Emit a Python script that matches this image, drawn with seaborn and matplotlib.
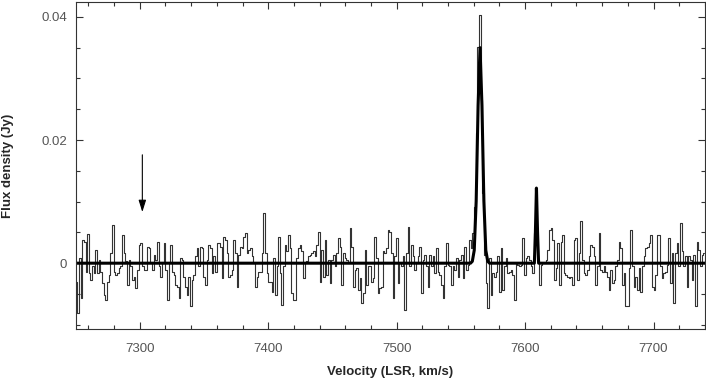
import numpy as np
import pandas as pd
import matplotlib
matplotlib.use("Agg")
import matplotlib.pyplot as plt
from matplotlib.ticker import MultipleLocator
import seaborn as sns

# ── data (flux in mJy; channels start at V0, step DV) ──
V0 = 7250.0
DV = 1.293

flux_a = [-3.0, -8.1, 0.8, -5.7, 3.8, 3.5, -1.4, 4.7, -1.6, -2.7,
          -0.5, -1.6, 2.2, -1.6, 0.5, -1.4, -3.2, -5.1, -6.0, -3.0,
          -1.9, 1.6, 6.2, -1.4, -1.9, -1.6, -0.8, -0.5, 4.6, 1.6,
          0.3, -3.5, 0.5, -0.5, -2.7, -2.2, -4.0, -1.1, 3.0, 3.2,
          -0.5, -1.1, -1.1, 2.7, 2.4, 0.0, -1.1, 1.4, 0.5, 3.5,
          -0.5, -2.2, 0.0, 3.2, -1.1, -6.0, 0.0, 3.0, -1.4, -1.9,
          -3.5, -3.8, -5.7, 0.8, 0.5, -2.2, -3.8, -5.1, -2.2, -7.0,
          -2.7, -1.9, 1.1, 2.4, -0.5, 2.7, 2.4, -2.2, -3.5, 0.5,
          3.0, 2.4, -1.6, 1.1, -1.4, 3.2, 3.2, 2.7, -2.4, 4.3,
          3.8, 1.6, -2.2, -1.9, -1.1, 3.8, 1.6, -3.8, 1.4, 2.7,
          2.4, 4.3, 4.9, 1.6, 2.2, 2.4, 1.1, 0.0, -3.8, -2.2,
          -1.4]

flux_b = [-1.4, 1.6, 8.1, 1.6, -1.6, -3.0, -3.0, -4.6, 0.8, -5.1,
          -0.5, 4.3, -1.6, -6.8, -0.5, 3.0, 1.9, 4.6, 2.4, -4.9,
          -5.9, -5.9, 0.8, 2.4, 3.0, 1.9, -2.4, 0.0, 0.3, 1.1,
          1.4, 1.6, 1.9, 1.1, 3.0, 5.1, -3.0, 2.2, -2.2, 3.8,
          -1.9, 0.5, -3.2, 0.5, 1.4, -0.5, 1.6, 4.1, 2.7, -3.5,
          1.6, 0.8, 0.5, 0.0, 5.7, 2.7, -3.8, -1.1, -0.8, -4.3,
          -2.4, -6.5, -4.9, 2.2, -3.5, -0.5, -0.5, -3.0, -2.4, 4.3,
          0.8, -4.9, -4.1, -3.8, 1.9, 1.6, 2.4, 5.4, 5.1, 1.6,
          -5.7, 1.1, 4.1, -3.2, 0.0, -0.5, 1.1, -7.6, 1.6, 5.9,
          -0.5, 3.0, 1.1, -1.1, 0.0, 1.1, 2.7, -4.9, 0.5, 1.4,
          -0.5, -3.8, 1.4, -0.5, 1.1, -1.6, 2.4, -1.4, -1.9, -3.5,
          -5.7, -0.5, 3.2, -0.3]

flux_c = [-0.5, -3.5, -0.5, -1.1, 0.8, -2.2, 0.5, 1.4, -2.4, 2.7,
          -1.1, -0.3, 3.8, 2.4, 4.9, 9.2, 21.1, 35.1, 40.3, 26.5,
          11.4, 1.4, -3.2, -7.3, 0.8, -5.1, -1.6, -2.2, -1.4, 1.1,
          -4.6, 2.4, -4.3, -0.5, 0.8, -1.6, -1.4, -1.1, -1.9, -5.9,
          0.0, -0.3, -0.5, -0.3, 4.1, -1.9, 0.8, 1.1, 0.5, -0.5,
          -1.6, 4.9, 12.2, 0.5, -3.5, -0.3, 0.0, 0.0, 0.5, 2.2,
          5.4, 5.7, 3.8, -2.7, -0.8, 3.2, -3.5, 3.5, 4.6, -1.6,
          -1.9, -2.2, -2.4, -2.2, -3.5, 3.8, 4.1, -2.7, 1.6, 6.8,
          0.5, -1.6, -1.9, -1.1, 1.1, 3.0, 2.7, 1.1, -3.5, -0.5,
          4.9, -1.1, -1.4, -0.5, -1.4, -2.2, -4.3, -1.1, -3.2, -2.7,
          -0.5, 0.5, 3.5, 2.4, -3.5, -1.6, -7.0, -7.0, -0.8, 5.4,
          -0.5, -3.8, -2.2, -4.3, -0.8, -4.6, -0.5, 1.1, 2.4, 2.7,
          3.2, 4.6, -3.8, -4.3, -1.9, 4.6, 4.6, -0.5, -2.4, -1.6,
          -1.4, -0.3, 4.1, -3.2, 1.6, -6.5, 1.6, 3.2, -0.5, 6.5,
          1.9, -0.5, 1.1, -3.8, 1.1, 0.5, -2.7, 1.4, -7.0, 3.5,
          2.2, -0.5, 1.4, 1.6]

# two-component Gaussian fit, read at the drawn vertices
fit_v = [7250, 7557.5, 7558.9, 7560.4, 7561.9, 7563.4, 7564.9, 7566.4,
         7567.9, 7569.4, 7570.9, 7572.3, 7607.2, 7608.0, 7608.8, 7609.7,
         7610.5, 7740]
fit_mjy = [0, 0, 0.3, 2.1, 10.1, 25.6, 35.0, 25.6,
           10.1, 2.1, 0.3, 0, 0, 5.0, 12.2, 5.0,
           0, 0]

# arrow marking the expected position
ARROW_V = 7302
ARROW_TOP = 0.0176
ARROW_TIP = 0.0083

flux = np.array(flux_a + flux_b + flux_c) / 1000.0
vel = V0 + (np.arange(len(flux)) + 0.5) * DV
spec = pd.DataFrame({"Velocity": vel, "Flux": flux})
fit = pd.DataFrame({"Velocity": fit_v, "Flux": np.array(fit_mjy) / 1000.0})

# ── plot ─────────────────────────────────────────────────────────────────────
sns.set_theme(style="ticks")
plt.rcParams["font.family"] = ["Liberation Sans", "DejaVu Sans"]

fig = plt.figure(figsize=(7.06, 3.80), dpi=100)
ax = fig.add_axes([0.107, 0.134, 0.8915, 0.8605])

sns.lineplot(data=spec, x="Velocity", y="Flux", ax=ax, color="#333333",
             linewidth=0.8, drawstyle="steps-mid", estimator=None)
sns.lineplot(data=fit, x="Velocity", y="Flux", ax=ax, color="black",
             linewidth=2.2, estimator=None)

ax.annotate("", xy=(ARROW_V, ARROW_TIP), xytext=(ARROW_V, ARROW_TOP),
            arrowprops=dict(arrowstyle="-|>,head_length=0.8,head_width=0.25",
                            color="black", lw=0.8,
                            mutation_scale=9, shrinkA=0, shrinkB=0))

ax.set_xlim(7250, 7740)
ax.set_ylim(-0.0107, 0.0424)
ax.xaxis.set_major_locator(MultipleLocator(100))
ax.xaxis.set_minor_locator(MultipleLocator(20))
ax.yaxis.set_minor_locator(MultipleLocator(0.005))
ax.set_yticks([0, 0.02, 0.04])
ax.set_yticklabels(["0", "0.02", "0.04"])

ax.tick_params(which="both", direction="in", top=True, right=True,
               colors="#333333", labelcolor="#555555", labelsize=9.5)
ax.tick_params(which="major", length=5, width=0.8)
ax.tick_params(which="minor", length=3, width=0.8)
ax.tick_params(axis="x", pad=10)
ax.tick_params(axis="y", pad=6)
for s in ax.spines.values():
    s.set_linewidth(0.8)
    s.set_color("#333333")

ax.set_xlabel("Velocity (LSR, km/s)", fontsize=9.5, fontweight="bold")
ax.set_ylabel("Flux density (Jy)", fontsize=9.5, fontweight="bold")
ax.xaxis.set_label_coords(0.5, -0.112)
ax.yaxis.set_label_coords(-0.098, 0.5)

fig.savefig("out.png", dpi=100)
